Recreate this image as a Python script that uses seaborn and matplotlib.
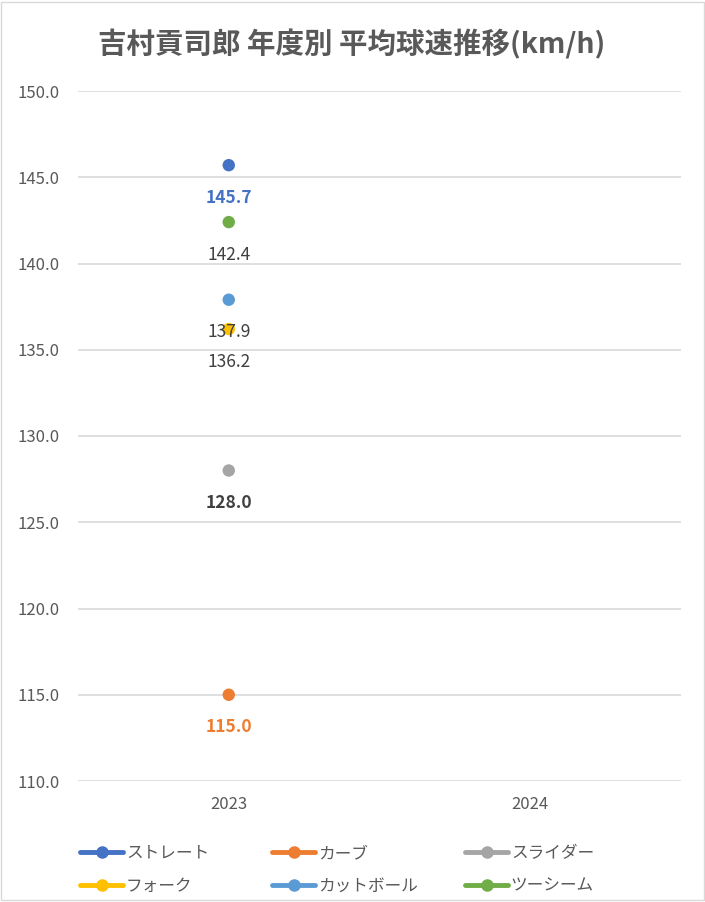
import matplotlib
matplotlib.use("Agg")
import matplotlib.pyplot as plt
import seaborn as sns
import pandas as pd
import numpy as np
from matplotlib.lines import Line2D
from matplotlib.patches import Rectangle

years = ["2023", "2024"]
pitches = ["ストレート", "カーブ", "スライダー", "フォーク", "カットボール", "ツーシーム"]
speed_2023 = [145.7, 115.0, 128.0, 136.2, 137.9, 142.4]
speed_2024 = [np.nan, np.nan, np.nan, np.nan, np.nan, np.nan]
colors = ["#4472C4", "#ED7D31", "#A5A5A5", "#FFC000", "#5B9BD5", "#70AD47"]
label_colors = ["#4472C4", "#ED7D31", "#404040", "#404040", "#404040", "#404040"]
label_bold = [True, True, True, False, False, False]
title = "吉村貢司郎 年度別 平均球速推移(km/h)"
yticks = [110.0, 115.0, 120.0, 125.0, 130.0, 135.0, 140.0, 145.0, 150.0]

sns.set_theme(style="white")
plt.rcParams['font.family'] = ['Noto Sans CJK JP', 'DejaVu Sans']

rows = []
for i, p in enumerate(pitches):
    rows.append({"year": years[0], "pitch": p, "speed": speed_2023[i], "xi": 0})
    rows.append({"year": years[1], "pitch": p, "speed": speed_2024[i], "xi": 1})
df = pd.DataFrame(rows)

fig = plt.figure(figsize=(7.05, 9.02), dpi=100)
ax = fig.add_axes([78/705, (902-781)/902, 603/705, 690/902])

palette = dict(zip(pitches, colors))
sns.scatterplot(data=df.dropna(), x="xi", y="speed", hue="pitch", hue_order=pitches,
                palette=palette, s=80, edgecolor="none", legend=False, ax=ax, zorder=3)

for i, p in enumerate(pitches):
    v = speed_2023[i]
    ax.annotate(f"{v:.1f}", xy=(0, v), xytext=(0, -23.5), textcoords="offset points",
                ha="center", va="center", fontsize=12.5, color=label_colors[i],
                fontweight="bold" if label_bold[i] else "normal", zorder=4)

ax.set_xlim(-0.5, 1.5)
ax.set_ylim(110, 150)
ax.set_xticks([0, 1])
ax.set_xticklabels(years)
ax.set_yticks(yticks)
ax.set_yticklabels([f"{t:.1f}" for t in yticks])
ax.tick_params(axis="both", length=0, labelsize=12, colors="#595959")
ax.tick_params(axis="x", pad=11)
ax.tick_params(axis="y", pad=13)
ax.set_xlabel("")
ax.set_ylabel("")
for s in ax.spines.values():
    s.set_visible(False)
ax.yaxis.grid(True, color="#D9D9D9", linewidth=1.2)
ax.set_axisbelow(True)

fig.text(352/705, 1 - 44/902, title, ha="center", va="center", fontsize=20.5,
         fontweight="bold", color="#595959")

col_x = [80, 272, 465]
for c in range(3):
    idx = [c, c + 3]
    handles = [Line2D([0], [0], color=colors[k], lw=3.5, marker="o", markersize=8,
                      solid_capstyle="round") for k in idx]
    leg = fig.legend(handles, [pitches[k] for k in idx], loc="center left",
                     bbox_to_anchor=(col_x[c]/705, 1 - 870/902), ncol=1, frameon=False,
                     fontsize=12, handlelength=2.6, handletextpad=0.15, labelspacing=0.95,
                     borderpad=0, borderaxespad=0)
    for t in leg.get_texts():
        t.set_color("#595959")

fig.patches.append(Rectangle((0.002, 0.002), 0.996, 0.996, transform=fig.transFigure,
                             fill=False, edgecolor="#D9D9D9", linewidth=1))

fig.savefig("out.png", dpi=100)
